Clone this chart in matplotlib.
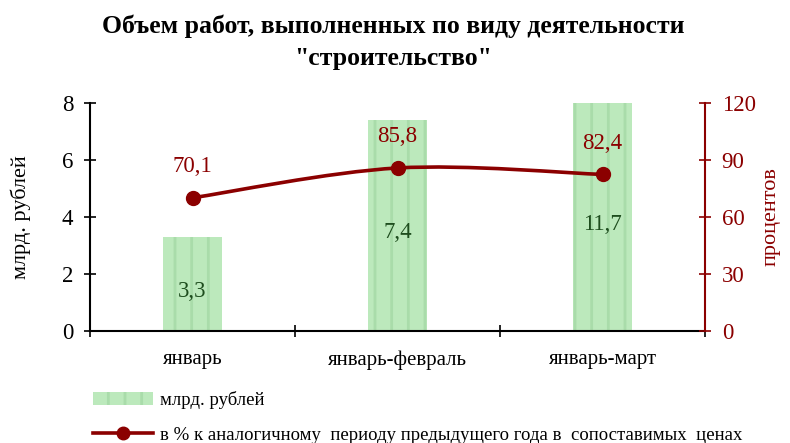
import matplotlib.pyplot as plt
import matplotlib.path as mpath
import matplotlib.patches as mpatches
from matplotlib.lines import Line2D
import numpy as np

plt.rcParams['font.family'] = ['Liberation Serif', 'DejaVu Serif']
plt.rcParams['hatch.linewidth'] = 2.0

# data
categories = ['январь', 'январь-февраль', 'январь-март']
volume = [3.3, 7.4, 11.7]          # млрд. рублей
percent = [70.1, 85.8, 82.4]       # % к аналогичному периоду
vol_labels = ['3,3', '7,4', '11,7']
pct_labels = ['70,1', '85,8', '82,4']

red = '#8b0000'
green_txt = '#1e4d1e'

fig = plt.figure(figsize=(7.9, 4.43), dpi=100)
ax = fig.add_axes([90 / 790, 1 - 331 / 443, 615 / 790, 228 / 443])
ax2 = ax.twinx()

x = np.arange(len(categories))
ax.bar(x, volume, width=0.29, color='#bce9bc', edgecolor='#a9dcaa',
       hatch='|', linewidth=0, zorder=2)
ax.set_xlim(-0.5, len(categories) - 0.5)
ax.set_ylim(0, 8)
ax.set_yticks([0, 2, 4, 6, 8])
ax.tick_params(axis='y', direction='inout', length=8, width=1.2, labelsize=16.5, pad=8)
ax.set_xticks(x)
ax.set_xticklabels(categories, fontsize=15)
ax.set_xticks(np.arange(len(categories) + 1) - 0.5, minor=True)
ax.tick_params(axis='x', which='major', length=0, pad=14)
ax.tick_params(axis='x', which='minor', direction='inout', length=8, width=1.2)
ax.set_ylabel('млрд. рублей', fontsize=16, labelpad=22)
for s in ['top', 'right']:
    ax.spines[s].set_visible(False)
ax.spines['left'].set_linewidth(1.5)
ax.spines['bottom'].set_linewidth(1.5)

for xi, v, lab in zip(x, volume, vol_labels):
    ax.text(xi, min(v, 8) / 2 - 0.25, lab, ha='center', va='center',
            fontsize=16.5, color=green_txt, zorder=5)

# smoothed line through points (Catmull-Rom -> Bezier)
pts = np.column_stack([x, percent]).astype(float)
verts = [tuple(pts[0])]
codes = [mpath.Path.MOVETO]
for i in range(len(pts) - 1):
    p0 = pts[i - 1] if i > 0 else pts[i]
    p1, p2 = pts[i], pts[i + 1]
    p3 = pts[i + 2] if i + 2 < len(pts) else pts[i + 1]
    c1 = p1 + (p2 - p0) / 6
    c2 = p2 - (p3 - p1) / 6
    verts += [tuple(c1), tuple(c2), tuple(p2)]
    codes += [mpath.Path.CURVE4] * 3
ax2.add_patch(mpatches.PathPatch(mpath.Path(verts, codes), fill=False,
                                 edgecolor=red, linewidth=2.6, zorder=3))
ax2.plot(x, percent, 'o', color=red, markersize=10, zorder=4)
for xi, v, lab in zip(x, percent, pct_labels):
    ax2.text(xi, v + 16.5, lab, ha='center', va='center', fontsize=16.5, color=red)

ax2.set_ylim(0, 120)
ax2.set_yticks([0, 30, 60, 90, 120])
ax2.tick_params(axis='y', direction='inout', length=8, width=1.2,
                colors=red, labelsize=16.5, pad=8)
ax2.set_ylabel('процентов', fontsize=16, color=red, labelpad=4)
for s in ['top', 'left', 'bottom']:
    ax2.spines[s].set_visible(False)
ax2.spines['right'].set_color(red)
ax2.spines['right'].set_linewidth(1.5)

fig.text(393 / 790, 1 - 42 / 443,
         'Объем работ, выполненных по виду деятельности\n"строительство"',
         ha='center', va='center', fontsize=18.5, fontweight='bold',
         linespacing=1.5)

handles = [mpatches.Patch(facecolor='#bce9bc', edgecolor='#a9dcaa', hatch='|', linewidth=0),
           Line2D([], [], color=red, linewidth=2.6, marker='o', markersize=9)]
fig.legend(handles, ['млрд. рублей',
                     'в % к аналогичному  периоду предыдущего года в  сопоставимых  ценах'],
           loc='lower left', bbox_to_anchor=(76 / 790, -0.04), frameon=False,
           fontsize=13.5, handlelength=3.2, labelspacing=0.95, handletextpad=0.4)

fig.savefig('out.png', dpi=100)
